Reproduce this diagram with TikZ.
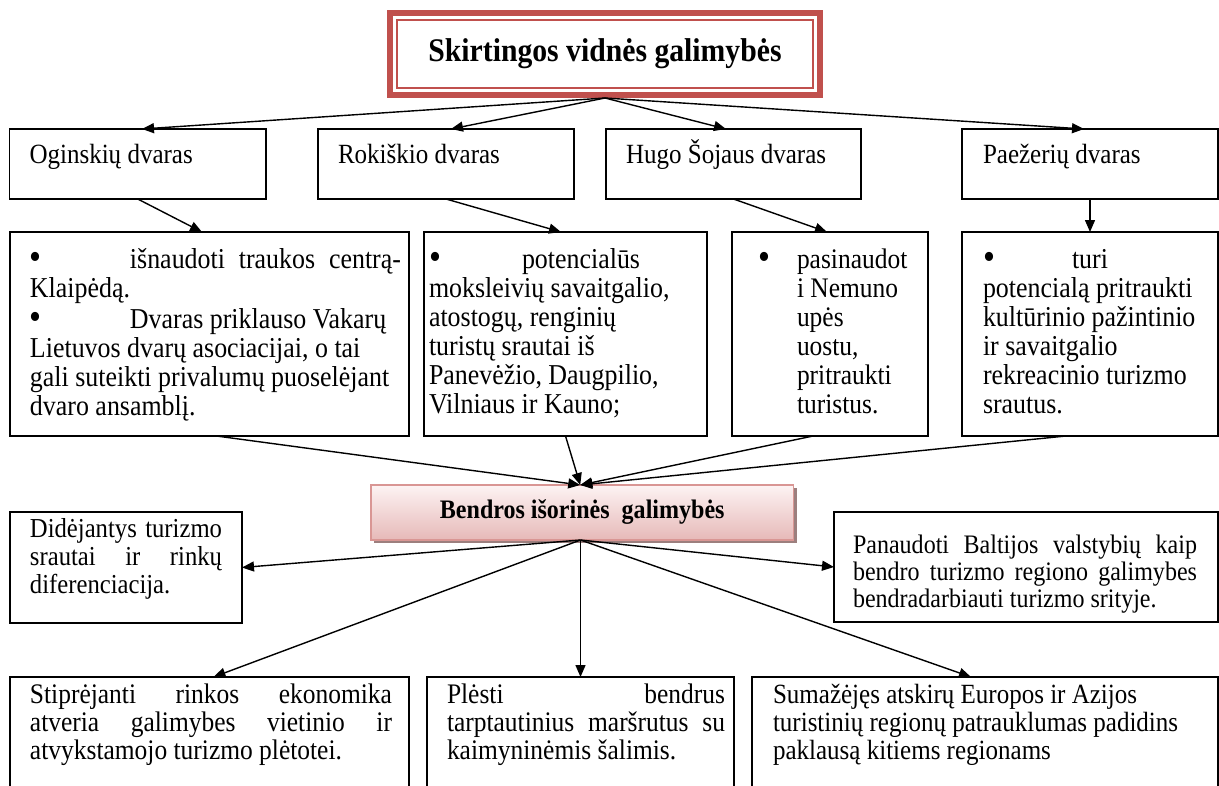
\documentclass[tikz,border=0pt]{standalone}
\usepackage{fontspec}
\setmainfont{Liberation Serif}[FakeStretch=0.9]
\usetikzlibrary{arrows.meta,shadows}
\definecolor{tred}{HTML}{C0504D}
\definecolor{cbtop}{HTML}{FDF3F3}
\definecolor{cbbot}{HTML}{E6B9B8}
\definecolor{cbline}{HTML}{D99694}
\definecolor{cbshadow}{HTML}{9C7F7E}
\newcommand\fsz[2]{\fontsize{#1}{#2}\selectfont}
\newcommand\jline[2]{\makebox[#1pt][s]{#2}}
\newcommand\bul[1]{\makebox[#1pt][l]{\smash{\raisebox{-1.5pt}{\fontsize{38}{28}\selectfont •}}}}
\begin{document}
\begin{tikzpicture}[x=1pt,y=-1pt,
  box/.style={draw, line width=1.4pt, inner sep=0pt, outer sep=0pt, anchor=north west},
  txt/.style={inner sep=0pt, outer sep=0pt, anchor=base west},
  arr/.style={line width=1.4pt, -{Triangle[length=12pt,width=10pt]}},
]
\useasboundingbox (0,0) rectangle (1219,785);
\clip (0,0) rectangle (1219,785);

% title
\node[box, anchor=center, draw=tred, line width=6pt, minimum width=430pt, minimum height=82pt] (title) at (605,54) {\fsz{33}{37}\bfseries Skirtingos vidnės galimybės};
\draw[tred, line width=1.7pt] ([shift={(7,7)}]title.north west) rectangle ([shift={(-7,-7)}]title.south east);
\coordinate (tb) at (605,98);

% top row
\node[box, minimum width=256.5pt, minimum height=70pt] (og) at (9.5,129) {};
\node[box, minimum width=256pt, minimum height=70pt] (rok) at (318,129) {};
\node[box, minimum width=255pt, minimum height=70pt] (hugo) at (606,129) {};
\node[box, minimum width=256pt, minimum height=70pt] (paez) at (962,129) {};
\node[txt] (og-t) at ([shift={(20,34)}]og.north west) {\fsz{27.8}{31}Oginskių dvaras};
\node[txt] (rok-t) at ([shift={(20,34)}]rok.north west) {\fsz{27.8}{31}Rokiškio dvaras};
\node[txt] (hugo-t) at ([shift={(20,34)}]hugo.north west) {\fsz{27.8}{31}Hugo Šojaus dvaras};
\node[txt] (paez-t) at ([shift={(21,34)}]paez.north west) {\fsz{27.8}{31}Paežerių dvaras};

% second row
\node[box, minimum width=399pt, minimum height=204pt] (d1) at (10,232) {};
\node[box, minimum width=283pt, minimum height=204pt] (d2) at (424,232) {};
\node[box, minimum width=196pt, minimum height=204pt] (d3) at (732,232) {};
\node[box, minimum width=256pt, minimum height=204pt] (d4) at (962,232) {};

\node[txt] (d1-t) at ([shift={(20,36)}]d1.north west) {\parbox[t]{378pt}{\raggedright\fsz{28.8}{29}%
\bul{100}\jline{271}{išnaudoti traukos centrą-}\\
Klaipėdą.\\[2pt]
\bul{100}Dvaras priklauso Vakarų\\
Lietuvos dvarų asociacijai, o tai\\
gali suteikti privalumų puoselėjant\\
dvaro ansamblį.}};

\node[txt] (d2-t) at ([shift={(5,36)}]d2.north west) {\parbox[t]{276pt}{\raggedright\fsz{28.8}{29}%
\bul{93}potencialūs\\
moksleivių savaitgalio,\\
atostogų, renginių\\
turistų srautai iš\\
Panevėžio, Daugpilio,\\
Vilniaus ir Kauno;}};

\node[txt] (d3-t) at ([shift={(26,36)}]d3.north west) {\fsz{28.3}{29}\bul{39}\parbox[t]{125pt}{\raggedright
pasinaudot\\
i Nemuno\\
upės\\
uostu,\\
pritraukti\\
turistus.}};

\node[txt] (d4-t) at ([shift={(21,36)}]d4.north west) {\parbox[t]{234pt}{\raggedright\fsz{28.8}{29}%
\bul{89}turi\\
potencialą pritraukti\\
kultūrinio pažintinio\\
ir savaitgalio\\
rekreacinio turizmo\\
srautus.}};

% centre box
\node[box, minimum width=422.5pt, minimum height=55pt, draw=cbline, line width=1.5pt,
  top color=cbtop, bottom color=cbbot,
  drop shadow={shadow xshift=3pt, shadow yshift=-3pt, fill=cbshadow, opacity=1}] (cb) at (371,485)
  {\fsz{26.7}{30}\bfseries Bendros išorinės\ \ galimybės};
\coordinate (cin) at ([shift={(-2,0)}]cb.north);
\coordinate (cout) at ([shift={(-1.75,0)}]cb.south);

% third row
\node[box, minimum width=232pt, minimum height=111pt] (dd) at (10,512) {};
\node[txt] (dd-t) at ([shift={(20,25)}]dd.north west) {\parbox[t]{200pt}{\raggedright\fsz{27.4}{28}%
\jline{192}{Didėjantys turizmo}\\
\jline{192}{srautai ir rinkų}\\
diferenciacija.}};

\node[box, minimum width=384pt, minimum height=110pt] (pa) at (834,512) {};
\node[txt] (pa-t) at ([shift={(19,41)}]pa.north west) {\parbox[t]{352pt}{\raggedright\fsz{26.7}{27}%
\jline{344}{Panaudoti Baltijos valstybių kaip}\\
\jline{344}{bendro turizmo regiono galimybes}\\
bendradarbiauti turizmo srityje.}};

% bottom row
\node[box, minimum width=399pt, minimum height=130pt] (b1) at (10,677) {};
\node[box, minimum width=307pt, minimum height=130pt] (b2) at (427,677) {};
\node[box, minimum width=466pt, minimum height=130pt] (b3) at (752,677) {};
\node[txt] (b1-t) at ([shift={(20,26)}]b1.north west) {\parbox[t]{370pt}{\raggedright\fsz{28.3}{28}%
\jline{362}{Stiprėjanti rinkos ekonomika}\\
\jline{362}{atveria galimybes vietinio ir}\\
atvykstamojo turizmo plėtotei.}};
\node[txt] (b2-t) at ([shift={(20,26)}]b2.north west) {\parbox[t]{284pt}{\raggedright\fsz{28.3}{28}%
\jline{278}{Plėsti bendrus}\\
\jline{278}{tarptautinius maršrutus su}\\
kaimyninėmis šalimis.}};
\node[txt] (b3-t) at ([shift={(21,26)}]b3.north west) {\parbox[t]{440pt}{\raggedright\fsz{27.8}{28}%
Sumažėjęs atskirų Europos ir Azijos\\
turistinių regionų patrauklumas padidins\\
paklausą kitiems regionams}};

% connectors
\draw[arr] (tb) -- ([shift={(4.25,0)}]og.north);
\draw[arr] (tb) -- ([shift={(5,0)}]rok.north);
\draw[arr] (tb) -- ([shift={(-7.5,0)}]hugo.north);
\draw[arr] (tb) -- ([shift={(-6,0)}]paez.north);

\draw[arr] (og.south) -- ([shift={(-7.5,0)}]d1.north);
\draw[arr] (rok.south) -- ([shift={(-4.5,0)}]d2.north);
\draw[arr] (hugo.south) -- ([shift={(-3,0)}]d3.north);
\draw[arr] (paez.south) -- (d4.north);

\draw[arr] ([shift={(7,0)}]d1.south) -- (cin);
\draw[arr] (d2.south) -- (cin);
\draw[arr] ([shift={(-17,0)}]d3.south) -- (cin);
\draw[arr] ([shift={(-24,0)}]d4.south) -- (cin);

\draw[arr] (cout) -- (dd.east);
\draw[arr] (cout) -- ([shift={(4,0)}]b1.north);
\draw[arr] (cout) -- (b2.north);
\draw[arr] (cout) -- ([shift={(-14,0)}]b3.north);
\draw[arr] (cout) -- (pa.west);
\end{tikzpicture}
\end{document}
